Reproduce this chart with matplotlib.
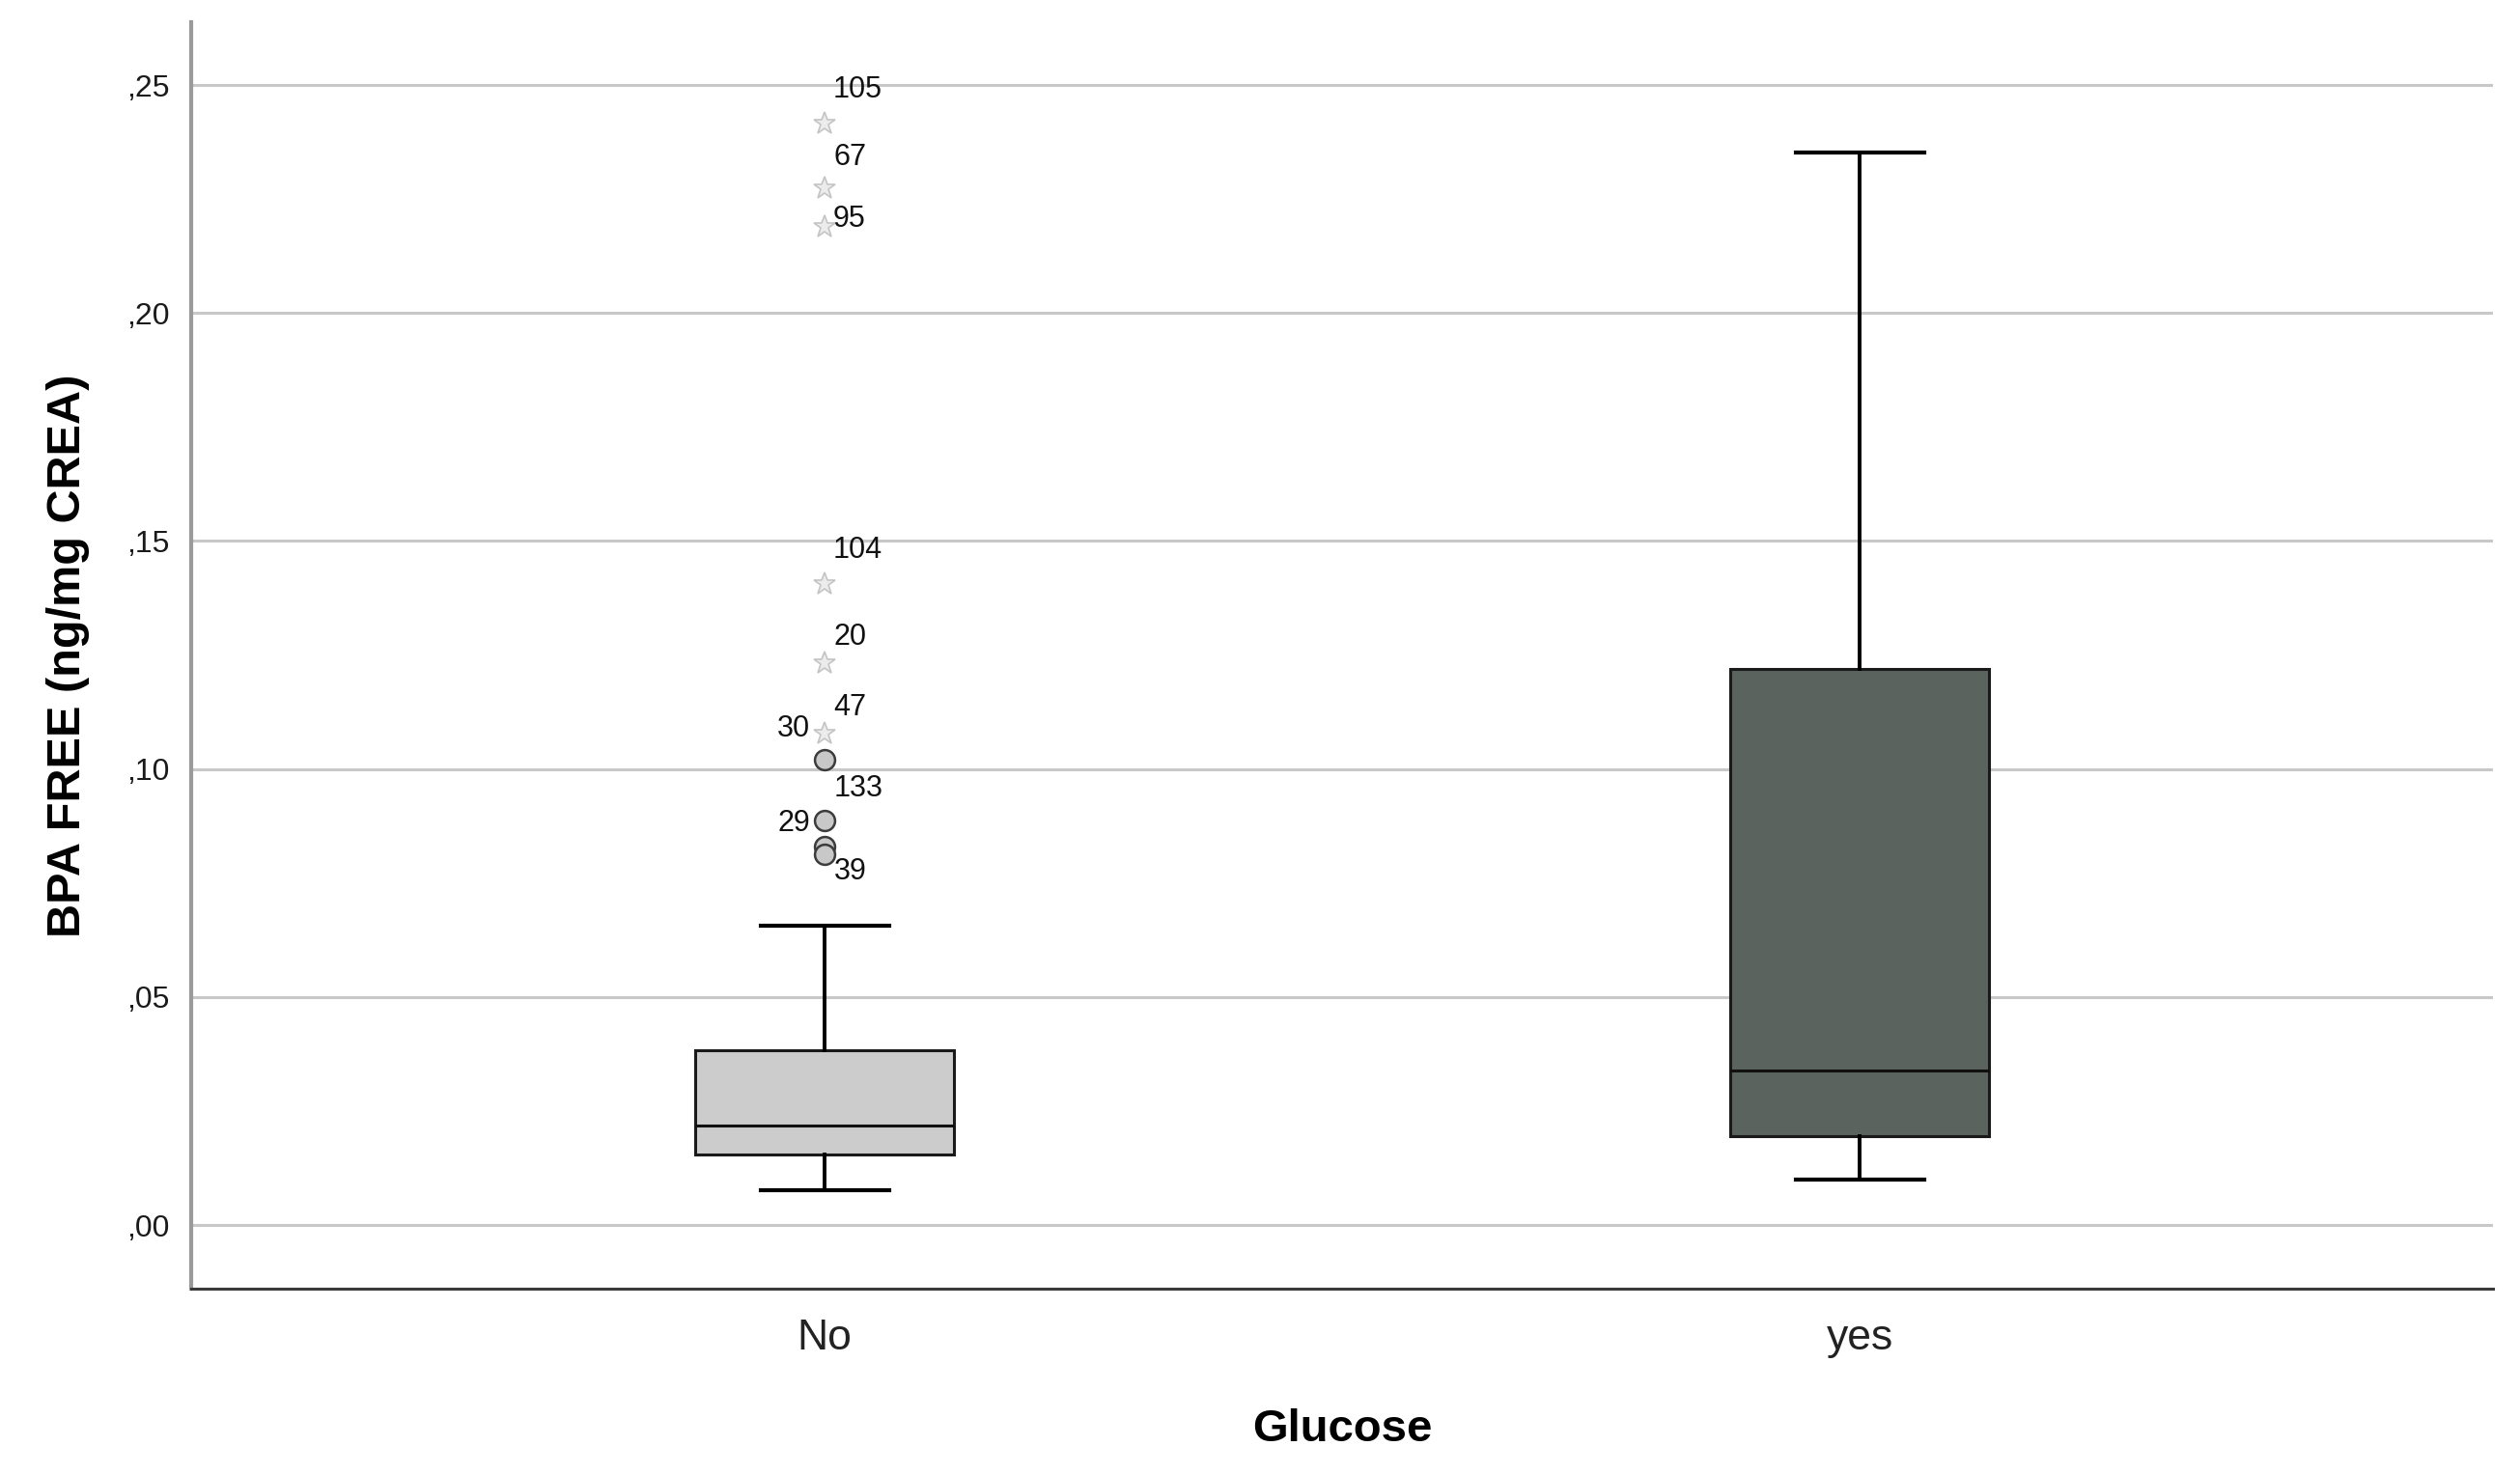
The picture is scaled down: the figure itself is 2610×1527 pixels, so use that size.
import matplotlib
matplotlib.use("Agg")
import matplotlib.pyplot as plt

plt.rcParams["font.family"] = ["Liberation Sans", "DejaVu Sans"]

# box summaries
categories = ["No", "yes"]
q1 = [0.0155, 0.0195]
medians = [0.0218, 0.0339]
q3 = [0.0384, 0.1220]
whisker_lo = [0.0077, 0.0099]
whisker_hi = [0.0656, 0.2352]

# outliers of group "No": extremes (stars) and mild outliers (circles)
extreme_vals = [0.2415, 0.2273, 0.2189, 0.1406, 0.1232, 0.1077]
extreme_ids = ["105", "67", "95", "104", "20", "47"]
outlier_vals = [0.1020, 0.0887, 0.0830, 0.0812]
outlier_ids = ["30", "29", "133", "39"]

yticks = [0.0, 0.05, 0.10, 0.15, 0.20, 0.25]
ytick_labels = [",00", ",05", ",10", ",15", ",20", ",25"]

# label offsets in pixels (dx, dy, ha) so they sit like SPSS places them
extreme_offsets = [(9, 35, "left"), (9, 32, "left"), (9, 8, "left"),
                   (9, 35, "left"), (9, 27, "left"), (9, 27, "left")]
outlier_offsets = [(-15, 32, "right"), (-15, -3, "right"),
                   (10, 60, "left"), (10, -18, "left")]

fig = plt.figure(figsize=(26.10, 15.27), dpi=100)
ax = fig.add_axes([0.0759, 0.1257, 0.9134, 0.8593])

stats = []
for i, name in enumerate(categories):
    stats.append(dict(label=name, q1=q1[i], med=medians[i], q3=q3[i],
                      whislo=whisker_lo[i], whishi=whisker_hi[i], fliers=[]))

bp = ax.bxp(stats, positions=[0, 1], widths=0.25, patch_artist=True,
            showfliers=False, capwidths=0.124,
            boxprops=dict(linewidth=2.2, edgecolor="#1a1a1a"),
            medianprops=dict(color="#111111", linewidth=2.2),
            whiskerprops=dict(color="#000000", linewidth=2.8),
            capprops=dict(color="#000000", linewidth=3.0))
for patch, fc in zip(bp["boxes"], ["#cccccc", "#5a635d"]):
    patch.set_facecolor(fc)
    patch.set_zorder(3)
for ln in bp["medians"] + bp["whiskers"] + bp["caps"]:
    ln.set_zorder(4)

x0 = [0] * len(extreme_vals)
ax.plot(x0, extreme_vals, linestyle="none", marker="*", markersize=17,
        markerfacecolor="#ececec", markeredgecolor="#c4c4c4",
        markeredgewidth=1.2, zorder=5)
ax.plot([0] * len(outlier_vals), outlier_vals, linestyle="none", marker="o",
        markersize=15, markerfacecolor="#c8c8c8", markeredgecolor="#3c3c3c",
        markeredgewidth=1.8, zorder=5)

for v, lab, (dx, dy, ha) in zip(extreme_vals, extreme_ids, extreme_offsets):
    ax.annotate(lab, (0, v), xytext=(dx, dy), textcoords="offset pixels",
                ha=ha, va="center", fontsize=22, color="#111111", zorder=6)
for v, lab, (dx, dy, ha) in zip(outlier_vals, outlier_ids, outlier_offsets):
    ax.annotate(lab, (0, v), xytext=(dx, dy), textcoords="offset pixels",
                ha=ha, va="center", fontsize=22, color="#111111", zorder=6)

ax.set_xlim(-0.612, 1.612)
ax.set_ylim(-0.01397, 0.2638)
ax.set_yticks(yticks)
ax.set_yticklabels(ytick_labels, fontsize=23, color="#1a1a1a")
ax.set_xticks([0, 1])
ax.set_xticklabels(categories, fontsize=32, color="#222222")
ax.tick_params(axis="y", length=0, pad=16)
ax.tick_params(axis="x", length=0, pad=22)

ax.yaxis.grid(True, color="#c8c8c8", linewidth=2.2, zorder=0)
ax.set_axisbelow(True)

ax.spines["top"].set_visible(False)
ax.spines["right"].set_visible(False)
ax.spines["left"].set_color("#9a9a9a")
ax.spines["left"].set_linewidth(3.0)
ax.spines["bottom"].set_color("#3a3a3a")
ax.spines["bottom"].set_linewidth(2.2)

ax.set_ylabel("BPA FREE (ng/mg CREA)", fontsize=35, fontweight="bold")
ax.set_xlabel("Glucose", fontsize=34, fontweight="bold", labelpad=38)
ax.yaxis.set_label_coords(-0.044, 0.5)

fig.savefig("out.png", dpi=100, facecolor="white")
